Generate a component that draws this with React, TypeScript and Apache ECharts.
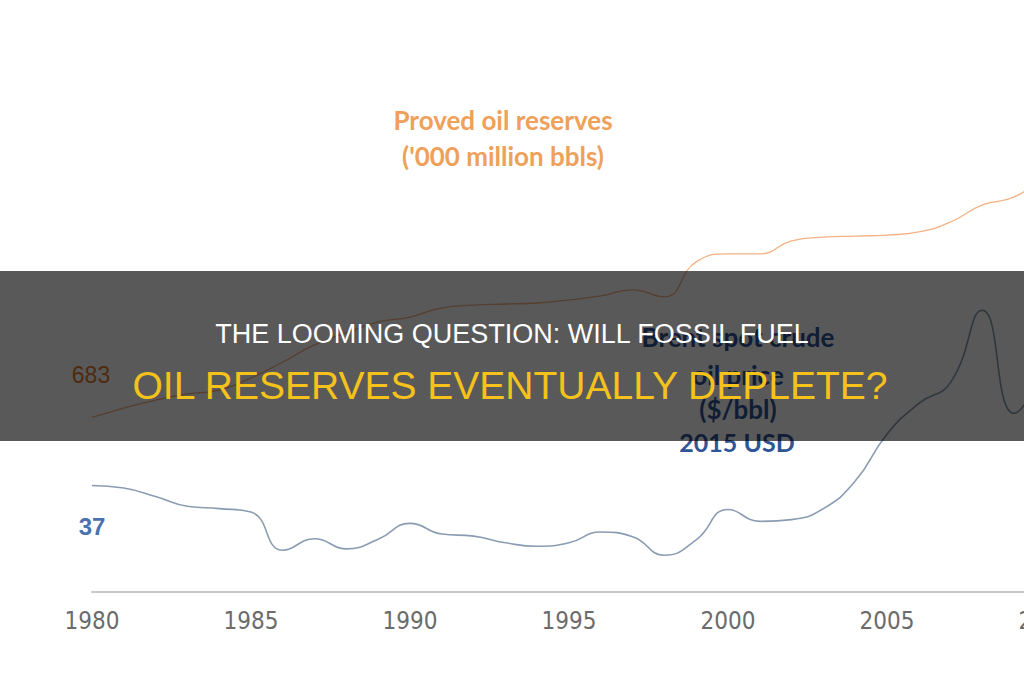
import React, { useEffect, useRef } from "react";
import * as echarts from "echarts";

const years = [
  "1980", "1981", "1982", "1983", "1984", "1985", "1986", "1987", "1988", "1989",
  "1990", "1991", "1992", "1993", "1994", "1995", "1996", "1997", "1998", "1999",
  "2000", "2001", "2002", "2003", "2004", "2005", "2006", "2007", "2008", "2009", "2010",
];

// Proved oil reserves ('000 million bbls)
const reserves = [
  683, 720, 751, 775, 790, 838, 900, 967, 1014, 1057,
  1076, 1112, 1123, 1127, 1131, 1143, 1159, 1182, 1155, 1292,
  1323, 1323, 1374, 1389, 1393, 1397, 1409, 1448, 1515, 1546, 1632,
];

// Brent spot crude oil price ($/bbl)
const price = [
  36.8, 35.9, 33.0, 29.6, 28.8, 27.6, 14.4, 18.4, 14.9, 18.2,
  23.7, 20.0, 19.3, 17.0, 15.8, 17.0, 20.7, 19.1, 12.7, 18.0,
  28.5, 24.4, 25.0, 28.8, 38.3, 54.5, 65.1, 72.4, 97.3, 61.7, 79.5,
];

const reservesTitle = ["Proved oil reserves", "('000 million bbls)"];
const priceTitle = ["Brent spot crude", "oil price", "($/bbl)", "2015 USD"];
const reservesStart = "683";
const priceStart = "37";
const headline1 = "THE LOOMING QUESTION: WILL FOSSIL FUEL";
const headline2 = "OIL RESERVES EVENTUALLY DEPLETE?";

const CHART_W = 1080;

export default function App() {
  const ref = useRef<HTMLDivElement>(null);

  useEffect(() => {
    if (!ref.current) return;
    const chart = echarts.init(ref.current, null, { renderer: "svg" });

    const txt = (text: string, x: number, y: number, font: string, fill: string, z: number) => ({
      type: "text",
      x,
      y,
      z,
      style: {
        text,
        font,
        fill,
        align: "center",
        verticalAlign: "middle",
        textAlign: "center",
        textVerticalAlign: "middle",
      },
    });

    chart.setOption({
      animation: false,
      backgroundColor: "#ffffff",
      grid: { left: 92, right: CHART_W - 1046, top: 157.6, bottom: 88, containLabel: false },
      xAxis: {
        type: "category",
        data: years,
        boundaryGap: false,
        axisLine: { show: true, lineStyle: { color: "#c9c9c9", width: 2 } },
        axisTick: { show: false },
        splitLine: { show: false },
        axisLabel: {
          interval: 4,
          color: "#6b6b6b",
          fontSize: 24,
          fontFamily: "'DejaVu Sans Condensed', 'Liberation Sans Narrow', 'Roboto', sans-serif",
          margin: 17,
        },
      },
      yAxis: [
        { type: "value", min: 0, max: 150, show: false, splitLine: { show: false } },
        { type: "value", min: 0, max: 1700, show: false, splitLine: { show: false } },
      ],
      series: [
        {
          type: "line",
          yAxisIndex: 1,
          data: reserves,
          smooth: true,
          symbol: "none",
          lineStyle: { color: "#F4B183", width: 1.3 },
          z: 2,
        },
        {
          type: "line",
          yAxisIndex: 0,
          data: price,
          smooth: true,
          symbol: "none",
          lineStyle: { color: "#8A9CB2", width: 1.6 },
          z: 2,
        },
      ],
      graphic: {
        elements: [
          txt(reservesTitle[0], 503, 120, "bold 26px Lato", "#EFA05A", 50),
          txt(reservesTitle[1], 503, 156, "bold 26px Lato", "#EFA05A", 50),
          txt(reservesStart, 91, 375, "23px 'Liberation Sans', sans-serif", "#E07A2E", 50),
          txt(priceStart, 92, 526, "bold 24px 'Liberation Sans', sans-serif", "#4A72AE", 50),
          txt(priceTitle[0], 738, 337, "bold 26px Lato", "#2F5597", 50),
          txt(priceTitle[1], 738, 375, "bold 26px Lato", "#2F5597", 50),
          txt(priceTitle[2], 738, 409, "bold 26px Lato", "#2F5597", 50),
          txt(priceTitle[3], 737, 442, "bold 25px Lato", "#2F5597", 50),
          {
            type: "rect",
            z: 100,
            shape: { x: 0, y: 271, width: 1024, height: 170 },
            style: { fill: "rgba(0,0,0,0.65)" },
          },
          txt(headline1, 512, 334, "27px 'Liberation Sans', Arial, sans-serif", "#ffffff", 110),
          txt(headline2, 510, 385, "39px 'Liberation Sans', Arial, sans-serif", "#F5C21B", 110),
        ],
      },
    });

    return () => chart.dispose();
  }, []);

  return (
    <div
      style={{
        position: "fixed",
        left: 0,
        top: 0,
        width: 1024,
        height: 680,
        overflow: "hidden",
        background: "#ffffff",
      }}
    >
      <div ref={ref} style={{ width: CHART_W, height: 680 }} />
    </div>
  );
}
